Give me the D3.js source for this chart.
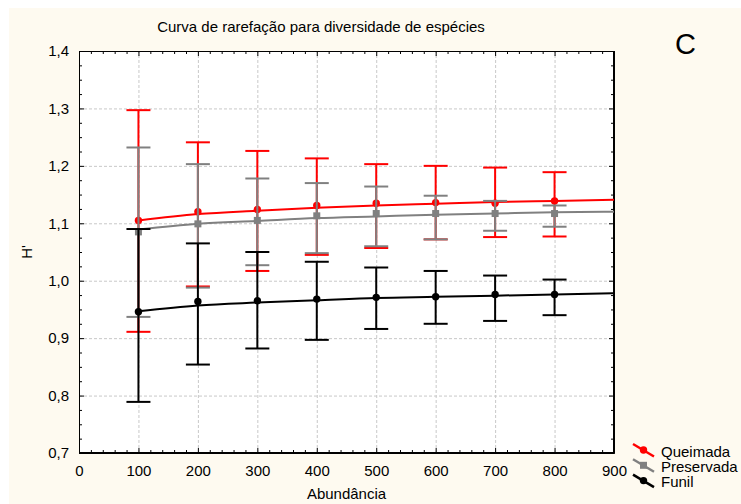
<!DOCTYPE html>
<html>
<head>
<meta charset="utf-8">
<script src="https://cdn.jsdelivr.net/npm/d3@7"></script>
<style>
  html, body { margin: 0; padding: 0; background: #ffffff; }
  svg { display: block; font-family: "Liberation Sans", Arial, sans-serif; }
</style>
</head>
<body>
<script>
// ---------- DATA ----------
const abundancias = [100, 200, 300, 400, 500, 600, 700, 800];
const fitX = [100, 200, 300, 400, 500, 600, 700, 800, 900];

const seriesNames = ["Queimada", "Preservada", "Funil"];
const seriesColors = ["#ff0000", "#808080", "#000000"];
const seriesMarkers = ["circle", "square", "circle"];

const queimadaMean  = [1.105, 1.120, 1.124, 1.131, 1.135, 1.136, 1.135, 1.139];
const queimadaUpper = [1.297, 1.241, 1.226, 1.213, 1.203, 1.200, 1.197, 1.189];
const queimadaLower = [0.911, 0.990, 1.017, 1.045, 1.057, 1.072, 1.076, 1.077];
const queimadaFit   = [1.105, 1.116, 1.122, 1.127, 1.131, 1.134, 1.137, 1.139, 1.141];

const preservadaMean  = [1.085, 1.099, 1.105, 1.113, 1.117, 1.117, 1.117, 1.117];
const preservadaUpper = [1.232, 1.203, 1.178, 1.170, 1.164, 1.148, 1.139, 1.131];
const preservadaLower = [0.937, 0.988, 1.027, 1.048, 1.060, 1.072, 1.087, 1.094];
const preservadaFit   = [1.089, 1.099, 1.104, 1.109, 1.112, 1.115, 1.117, 1.119, 1.120];

const funilMean  = [0.946, 0.964, 0.965, 0.968, 0.971, 0.972, 0.976, 0.976];
const funilUpper = [1.090, 1.065, 1.050, 1.033, 1.023, 1.017, 1.009, 1.002];
const funilLower = [0.789, 0.854, 0.882, 0.897, 0.916, 0.925, 0.930, 0.940];
const funilFit   = [0.947, 0.957, 0.962, 0.966, 0.970, 0.972, 0.974, 0.976, 0.978];

const xTickValues = [0, 100, 200, 300, 400, 500, 600, 700, 800, 900];
const xTickLabels = ["0", "100", "200", "300", "400", "500", "600", "700", "800", "900"];
const yTickValues = [0.7, 0.8, 0.9, 1.0, 1.1, 1.2, 1.3, 1.4];
const yTickLabels = ["0,7", "0,8", "0,9", "1,0", "1,1", "1,2", "1,3", "1,4"];

const titleText = "Curva de rarefação para diversidade de espécies";
const panelLetter = "C";
const xTitle = "Abundância";
const yTitle = "H'";

// ---------- LAYOUT ----------
const W = 741, H = 504;
const plot = { left: 79, top: 51, right: 614, bottom: 453 };
const FS = 15;

const svg = d3.select("body").append("svg").attr("width", W).attr("height", H);

svg.append("rect").attr("x", 0).attr("y", 0).attr("width", W).attr("height", H).attr("fill", "#ffffff");
svg.append("rect").attr("x", 9).attr("y", 8).attr("width", W - 9).attr("height", H - 8).attr("fill", "#fefaf0");
svg.append("rect").attr("x", plot.left).attr("y", plot.top)
  .attr("width", plot.right - plot.left).attr("height", plot.bottom - plot.top).attr("fill", "#ffffff");

const x = d3.scaleLinear().domain([0, 900]).range([plot.left, plot.right]);
const y = d3.scaleLinear().domain([0.7, 1.4]).range([plot.bottom, plot.top]);

const pw = plot.right - plot.left, ph = plot.bottom - plot.top;

// grid
const gridX = svg.append("g").attr("transform", `translate(0,${plot.bottom})`)
  .call(d3.axisBottom(x).tickValues(xTickValues.slice(1, -1)).tickSize(-ph).tickFormat(""));
gridX.select(".domain").remove();
gridX.selectAll("line").attr("stroke", "#c8c8c8").attr("stroke-dasharray", "3,2").attr("stroke-width", 1);

const gridY = svg.append("g").attr("transform", `translate(${plot.left},0)`)
  .call(d3.axisLeft(y).tickValues(yTickValues.slice(1, -1)).tickSize(-pw).tickFormat(""));
gridY.select(".domain").remove();
gridY.selectAll("line").attr("stroke", "#c8c8c8").attr("stroke-dasharray", "3,2").attr("stroke-width", 1);

// minor tick values
const xMinor = d3.range(0, 901, 20).filter(v => v % 100 !== 0);
const yMinor = d3.range(0, 29).map(i => +(0.7 + i * 0.025).toFixed(3)).filter(v => Math.abs(v * 10 - Math.round(v * 10)) > 1e-6);

function styleAxis(g) {
  g.selectAll("line").attr("stroke", "#000").attr("stroke-width", 1);
  g.select(".domain").attr("stroke", "#000").attr("stroke-width", 1);
  g.selectAll("text").attr("font-size", FS).attr("fill", "#000").attr("font-family", "Liberation Sans, Arial, sans-serif");
}

// bottom axis
const xAxis = svg.append("g").attr("transform", `translate(0,${plot.bottom})`)
  .call(d3.axisBottom(x).tickValues(xTickValues).tickSizeInner(-5).tickSizeOuter(0)
    .tickPadding(12).tickFormat((d, i) => xTickLabels[i]));
styleAxis(xAxis);
const xAxisMinor = svg.append("g").attr("transform", `translate(0,${plot.bottom})`)
  .call(d3.axisBottom(x).tickValues(xMinor).tickSize(-3).tickFormat(""));
xAxisMinor.select(".domain").remove();
styleAxis(xAxisMinor);

// top axis
const xTop = svg.append("g").attr("transform", `translate(0,${plot.top})`)
  .call(d3.axisTop(x).tickValues(xTickValues).tickSize(-5).tickFormat(""));
styleAxis(xTop);
const xTopMinor = svg.append("g").attr("transform", `translate(0,${plot.top})`)
  .call(d3.axisTop(x).tickValues(xMinor).tickSize(-3).tickFormat(""));
xTopMinor.select(".domain").remove();
styleAxis(xTopMinor);

// left axis
const yAxis = svg.append("g").attr("transform", `translate(${plot.left},0)`)
  .call(d3.axisLeft(y).tickValues(yTickValues).tickSizeInner(-5).tickSizeOuter(0)
    .tickPadding(10).tickFormat((d, i) => yTickLabels[i]));
styleAxis(yAxis);
const yAxisMinor = svg.append("g").attr("transform", `translate(${plot.left},0)`)
  .call(d3.axisLeft(y).tickValues(yMinor).tickSize(-3).tickFormat(""));
yAxisMinor.select(".domain").remove();
styleAxis(yAxisMinor);

// right axis
const yRight = svg.append("g").attr("transform", `translate(${plot.right},0)`)
  .call(d3.axisRight(y).tickValues(yTickValues).tickSize(-5).tickFormat(""));
styleAxis(yRight);
const yRightMinor = svg.append("g").attr("transform", `translate(${plot.right},0)`)
  .call(d3.axisRight(y).tickValues(yMinor).tickSize(-3).tickFormat(""));
yRightMinor.select(".domain").remove();
styleAxis(yRightMinor);

// frame
svg.append("rect").attr("x", plot.left + 0.5).attr("y", plot.top + 0.5)
  .attr("width", pw - 1 + 0.0).attr("height", ph - 1).attr("fill", "none").attr("stroke", "#000").attr("stroke-width", 1);

// ---------- SERIES ----------
const series = [
  { mean: queimadaMean, upper: queimadaUpper, lower: queimadaLower, fit: queimadaFit },
  { mean: preservadaMean, upper: preservadaUpper, lower: preservadaLower, fit: preservadaFit },
  { mean: funilMean, upper: funilUpper, lower: funilLower, fit: funilFit }
];

const capHalf = 12;
const line = d3.line().x(d => x(d[0])).y(d => y(d[1])).curve(d3.curveMonotoneX);

series.forEach((s, si) => {
  const col = seriesColors[si];
  const g = svg.append("g");
  abundancias.forEach((a, i) => {
    const cx = x(a);
    g.append("line").attr("x1", cx).attr("x2", cx).attr("y1", y(s.lower[i])).attr("y2", y(s.upper[i]))
      .attr("stroke", col).attr("stroke-width", 2);
    g.append("line").attr("x1", cx - capHalf).attr("x2", cx + capHalf).attr("y1", y(s.upper[i])).attr("y2", y(s.upper[i]))
      .attr("stroke", col).attr("stroke-width", 2);
    g.append("line").attr("x1", cx - capHalf).attr("x2", cx + capHalf).attr("y1", y(s.lower[i])).attr("y2", y(s.lower[i]))
      .attr("stroke", col).attr("stroke-width", 2);
  });
  g.append("path").datum(fitX.map((fx, i) => [fx, s.fit[i]])).attr("d", line)
    .attr("fill", "none").attr("stroke", col).attr("stroke-width", 2);
  abundancias.forEach((a, i) => {
    if (seriesMarkers[si] === "square") {
      g.append("rect").attr("x", x(a) - 3.5).attr("y", y(s.mean[i]) - 3.5).attr("width", 7).attr("height", 7).attr("fill", col);
    } else {
      g.append("circle").attr("cx", x(a)).attr("cy", y(s.mean[i])).attr("r", 3.7).attr("fill", col);
    }
  });
});

// ---------- TEXT ----------
svg.append("text").attr("x", 321).attr("y", 32).attr("text-anchor", "middle")
  .attr("font-size", FS).attr("fill", "#000").text(titleText);
svg.append("text").attr("x", 685.5).attr("y", 54).attr("text-anchor", "middle")
  .attr("font-size", 29).attr("fill", "#000").text(panelLetter);
svg.append("text").attr("x", (plot.left + plot.right) / 2).attr("y", 499).attr("text-anchor", "middle")
  .attr("font-size", FS).attr("fill", "#000").text(xTitle);
svg.append("text").attr("transform", `translate(32,${(plot.top + plot.bottom) / 2}) rotate(-90)`)
  .attr("text-anchor", "middle").attr("font-size", FS).attr("fill", "#000").text(yTitle);

// ---------- LEGEND ----------
const leg = svg.append("g");
seriesNames.forEach((name, i) => {
  const yy = 450 + i * 15.3;
  const col = seriesColors[i];
  leg.append("line").attr("x1", 633).attr("y1", yy - 6).attr("x2", 654).attr("y2", yy + 6.5)
    .attr("stroke", col).attr("stroke-width", 2.5);
  if (seriesMarkers[i] === "square") {
    leg.append("rect").attr("x", 643.5 - 3.5).attr("y", yy - 3.5).attr("width", 7).attr("height", 7).attr("fill", col);
  } else {
    leg.append("circle").attr("cx", 643.5).attr("cy", yy).attr("r", 3.7).attr("fill", col);
  }
  leg.append("text").attr("x", 661).attr("y", yy + 6.5).attr("font-size", FS).attr("fill", "#000").text(name);
});
</script>
</body>
</html>
